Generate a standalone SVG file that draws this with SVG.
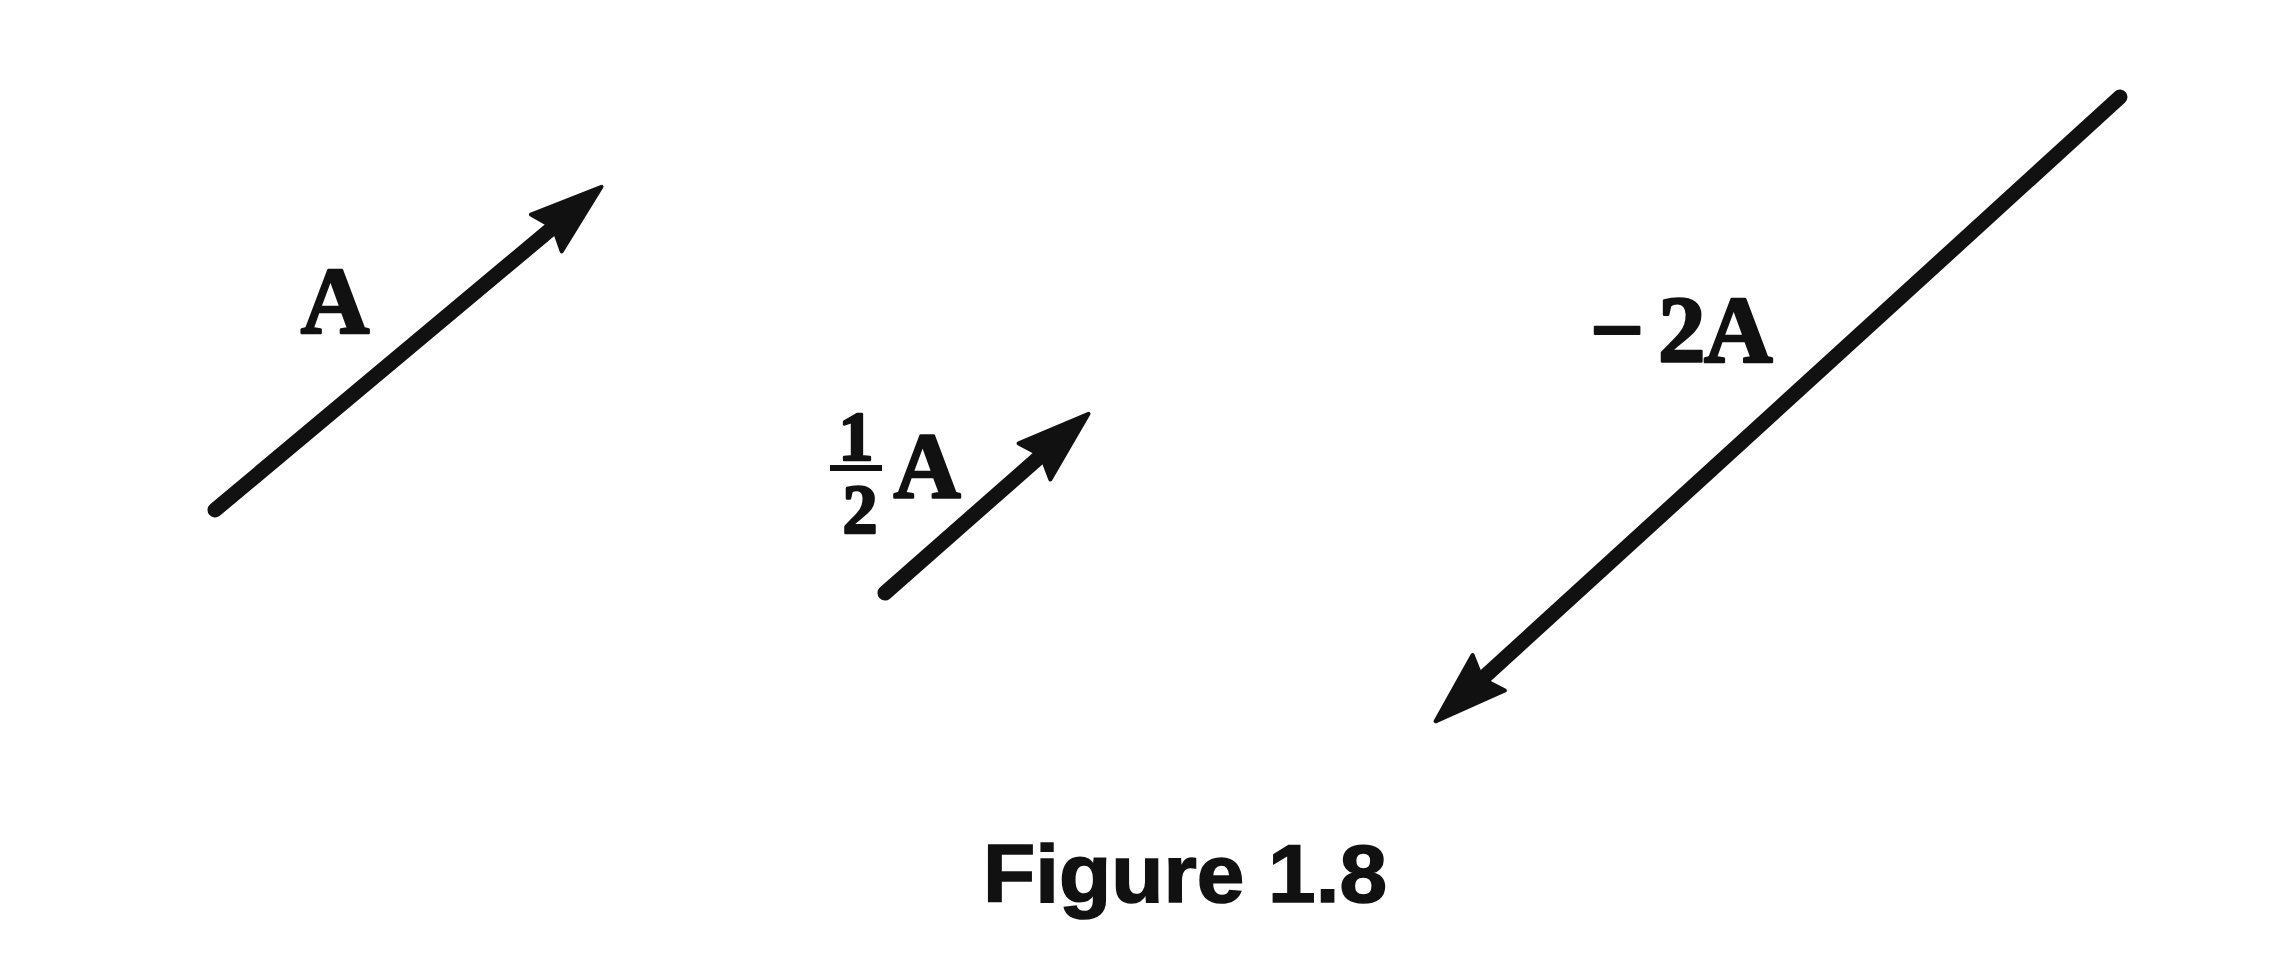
<svg xmlns="http://www.w3.org/2000/svg" width="2276" height="954" viewBox="0 0 2276 954">
<style>
.vec{stroke:#111;stroke-width:15;stroke-linecap:round;fill:none}
.lbl{font-family:"Liberation Serif","Times New Roman",serif;font-weight:bold;fill:#111;stroke:#111;stroke-width:2.5;stroke-linejoin:round}
.cap{font-family:"Liberation Sans",Arial,sans-serif;font-weight:bold;fill:#111;stroke:#111;stroke-width:1.5}
</style>
<defs>
<marker id="head" markerUnits="userSpaceOnUse" viewBox="-40 -30 90 60" markerWidth="90" markerHeight="60" refX="0" refY="0" orient="auto" overflow="visible">
<path d="M42,0 L-30,-24 L-21,0 L-30,24 Z" fill="#111" stroke="#111" stroke-width="4" stroke-linejoin="round"/>
</marker>
</defs>
<rect width="2276" height="954" fill="#fff"/>
<g id="connectors">
<line id="vecA" class="vec" x1="215" y1="510" x2="569.3" y2="213.7" marker-end="url(#head)"/>
<line id="vecHalfA" class="vec" x1="885" y1="593" x2="1057" y2="441.6" marker-end="url(#head)"/>
<line id="vecMinus2A" class="vec" x1="2120" y1="97" x2="1466.6" y2="693" marker-end="url(#head)"/>
</g>
<g id="label-A">
<text class="lbl" x="335" y="333" font-size="95" text-anchor="middle">A</text>
</g>
<g id="label-halfA">
<text class="lbl" x="856" y="460" font-size="70" text-anchor="middle">1</text>
<line x1="830" y1="468" x2="882" y2="468" stroke="#111" stroke-width="6"/>
<text class="lbl" x="860" y="533" font-size="70" text-anchor="middle">2</text>
<text class="lbl" x="927" y="497" font-size="93" text-anchor="middle">A</text>
</g>
<g id="label-minus2A">
<text class="lbl" y="362" font-size="95"><tspan x="1590">−</tspan><tspan x="1658">2</tspan><tspan x="1704">A</tspan></text>
</g>
<g id="caption">
<text class="cap" x="983" y="902" font-size="81" textLength="404" lengthAdjust="spacingAndGlyphs">Figure 1.8</text>
</g>
</svg>
